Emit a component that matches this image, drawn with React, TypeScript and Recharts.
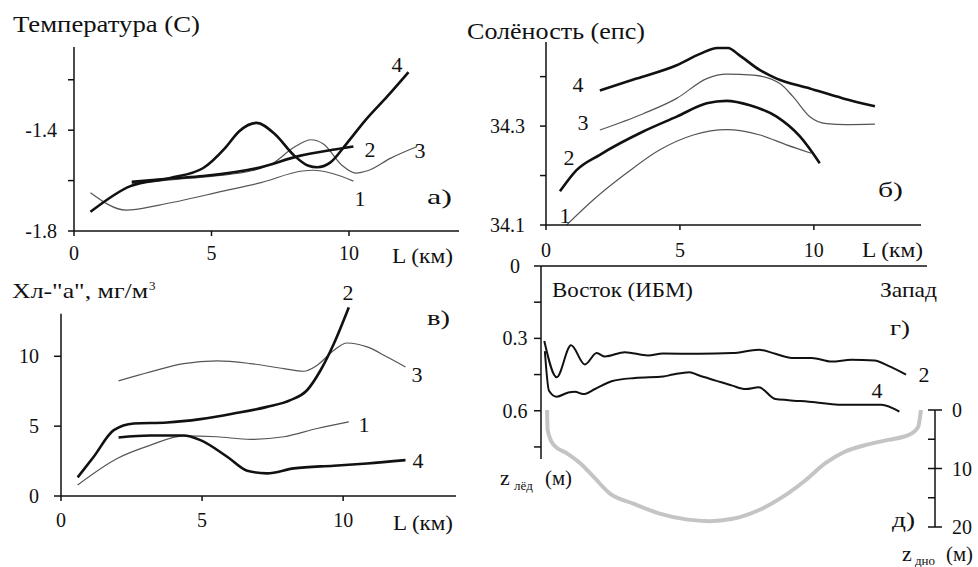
import { LineChart, Line, XAxis, YAxis, ReferenceLine } from 'recharts';

const FONT = "'Liberation Serif', 'DejaVu Serif', serif";
const INK = '#111';
const THIN = '#555';
const BED = '#c4c4c4';

// а) температура, °C — расстояние L (км), значение
const temp1 = [[0.6, -1.648], [1.9, -1.717], [3.1, -1.697], [5.5, -1.64], [6.8, -1.608], [8.3, -1.562], [8.7, -1.559], [9.4, -1.572], [10.16, -1.602]];
const temp2 = [[2.1, -1.605], [3.6, -1.591], [4.7, -1.582], [6.76, -1.548], [8.2, -1.502], [9.4, -1.478], [10.16, -1.465]];
const temp3 = [[2.1, -1.611], [3.6, -1.596], [5.07, -1.582], [6.5, -1.56], [7.25, -1.53], [8.0, -1.468], [8.62, -1.438], [9.07, -1.455], [9.75, -1.54], [10.25, -1.57], [10.7, -1.56], [11.5, -1.512], [12.46, -1.466]];
const temp4 = [[0.6, -1.724], [2.05, -1.622], [3.5, -1.59], [4.7, -1.55], [5.5, -1.47], [6.0, -1.405], [6.64, -1.371], [7.3, -1.415], [8.0, -1.5], [8.5, -1.54], [8.85, -1.547], [9.3, -1.53], [9.9, -1.455], [10.6, -1.36], [11.4, -1.265], [12.16, -1.17]];
const tempTicks = [-1.8, -1.6, -1.4, -1.2];
const tempTickLabels = [-1.8, -1.4];

// б) солёность, епс
const sal1 = [[0.77, 34.1], [1.77, 34.151], [3.01, 34.205], [4.25, 34.252], [5.5, 34.282], [6.74, 34.293], [7.99, 34.282], [8.98, 34.262], [9.9, 34.245]];
const sal2 = [[0.52, 34.168], [1.14, 34.211], [2.01, 34.242], [3.63, 34.289], [4.88, 34.319], [6.0, 34.346], [6.74, 34.351], [7.61, 34.342], [8.61, 34.319], [9.48, 34.279], [10.22, 34.225]];
const sal3 = [[2.01, 34.292], [3.63, 34.325], [4.88, 34.356], [6.0, 34.396], [6.74, 34.405], [7.74, 34.403], [8.73, 34.386], [9.23, 34.359], [9.85, 34.319], [10.47, 34.305], [11.2, 34.303], [12.28, 34.304]];
const sal4 = [[2.01, 34.372], [3.38, 34.396], [4.88, 34.423], [5.75, 34.446], [6.4, 34.458], [6.8, 34.458], [7.2, 34.444], [7.99, 34.413], [8.61, 34.396], [9.85, 34.376], [11.09, 34.356], [12.28, 34.34]];
const salTicks = [34.1, 34.2, 34.3, 34.4];
const salTickLabels = [34.1, 34.3];

// в) хлорофилл "а", мг/м3
const chl1 = [[0.59, 0.79], [1.99, 2.69], [3.17, 3.64], [4.35, 4.31], [5.53, 4.24], [6.71, 4.05], [7.9, 4.24], [9.08, 4.83], [10.2, 5.31]];
const chl2 = [[0.59, 1.33], [1.16, 2.81], [1.87, 4.71], [2.58, 5.19], [3.76, 5.26], [4.94, 5.5], [6.12, 5.9], [7.3, 6.38], [8.13, 6.86], [8.72, 7.57], [9.2, 9.0], [9.67, 10.9], [10.2, 13.5]];
const chl3 = [[2.04, 8.24], [3.17, 8.88], [4.35, 9.48], [5.53, 9.67], [6.71, 9.48], [7.9, 9.12], [8.6, 8.93], [9.08, 9.36], [9.67, 10.43], [10.14, 10.95], [10.85, 10.67], [11.56, 9.95], [12.21, 9.24]];
const chl4 = [[2.04, 4.19], [3.17, 4.33], [4.35, 4.33], [4.94, 4.0], [5.89, 2.81], [6.6, 1.81], [7.3, 1.62], [8.25, 1.98], [9.67, 2.17], [10.85, 2.33], [12.21, 2.57]];
const chlTicks = [0, 5, 10];

// г) толщина льда, м
const ice2 = [[0.12, 0.311], [0.57, 0.461], [1.09, 0.329], [1.59, 0.408], [2.02, 0.361], [2.32, 0.375], [3.04, 0.357], [3.88, 0.371], [4.42, 0.363], [5.74, 0.364], [6.94, 0.361], [7.9, 0.347], [8.5, 0.364], [9.1, 0.381], [9.82, 0.381], [10.54, 0.396], [11.26, 0.389], [12.1, 0.392], [12.58, 0.413], [13.24, 0.45]];
const ice4 = [[0.14, 0.353], [0.29, 0.517], [0.57, 0.542], [0.99, 0.524], [1.23, 0.521], [1.53, 0.531], [1.96, 0.51], [2.56, 0.478], [3.41, 0.464], [4.43, 0.458], [4.78, 0.45], [5.38, 0.44], [5.74, 0.454], [6.34, 0.475], [6.94, 0.496], [7.42, 0.51], [7.9, 0.503], [8.5, 0.551], [8.98, 0.556], [9.94, 0.565], [10.78, 0.575], [11.74, 0.575], [12.34, 0.575], [13.0, 0.604]];
const iceTicks = [0, 0.15, 0.3, 0.45, 0.6, 0.75];
const iceTickLabels = [0, 0.3, 0.6];

// д) глубина дна, м
const bed = [[0.22, 0], [0.24, 3.4], [0.46, 6.0], [0.94, 7.4], [1.42, 9.1], [1.9, 11.4], [2.5, 14.3], [3.34, 16.0], [4.3, 17.7], [5.26, 18.7], [6.1, 19.0], [6.94, 18.6], [7.9, 17.1], [8.74, 14.9], [9.58, 12.0], [10.3, 9.1], [11.02, 7.1], [11.74, 6.0], [12.58, 5.1], [13.3, 4.3], [13.66, 2.9], [13.76, 0]];
const bedTicks = [0, 5, 10, 15, 20];

const distTicks = [0, 5, 10];

const pts = (a: number[][]) => a.map(([x, y]) => ({ x, y }));
const near = (list: number[], v: number) => list.some((t) => Math.abs(t - v) < 1e-6);

const axisStyle = { stroke: INK, strokeWidth: 1.5 };
const tickText = { fill: INK, fontSize: 20, fontFamily: FONT };

function curve(data: number[][], bold: boolean, key: string) {
  return (
    <Line
      key={key}
      data={pts(data)}
      dataKey="y"
      type="monotone"
      stroke={bold ? INK : THIN}
      strokeWidth={bold ? 2.6 : 1.2}
      dot={false}
      activeDot={false}
      isAnimationActive={false}
    />
  );
}

function Box({ left, top, children }: { left: number; top: number; children: any }) {
  return <div style={{ position: 'absolute', left, top }}>{children}</div>;
}

// ширина области построения для панели д)
const BED_W = 394;

function BedTick({ y, payload }: any) {
  const major = payload.value % 10 === 0;
  return (
    <g>
      <line x1={BED_W - 7} x2={major ? BED_W + 7 : BED_W} y1={y} y2={y} stroke={INK} strokeWidth={1.5} />
      {major && (
        <text x={BED_W + 17} y={y} dominantBaseline="central" style={tickText}>
          {payload.value}
        </text>
      )}
    </g>
  );
}

function IceTick({ y, payload }: any) {
  if (!near(iceTickLabels, payload.value)) return <g />;
  return (
    <text x={29} y={y} textAnchor="middle" dominantBaseline="central" style={tickText}>
      {payload.value}
    </text>
  );
}

function Label({ x, y, t, size = 22, len, anchor = 'start' }: any) {
  return (
    <text
      x={x}
      y={y}
      textAnchor={anchor}
      textLength={len}
      lengthAdjust={len ? 'spacingAndGlyphs' : undefined}
      style={{ fontSize: size, fontFamily: FONT, fill: INK }}
    >
      {t}
    </text>
  );
}

export default function App() {
  return (
    <div style={{ position: 'absolute', left: 0, top: 0, width: 978, height: 567, background: '#fff', fontFamily: FONT }}>
      {/* а) температура */}
      <Box left={4} top={37}>
        <LineChart width={465} height={234} margin={{ top: 10, right: 10, bottom: 0, left: 0 }}>
          <XAxis type="number" dataKey="x" domain={[0, 14]} ticks={distTicks} height={40} tickSize={5} tickMargin={10}
            axisLine={axisStyle} tickLine={axisStyle} tick={tickText} allowDataOverflow />
          <YAxis type="number" domain={[-1.8, -1.07]} ticks={tempTicks} width={70} tickSize={6} tickMargin={11}
            axisLine={axisStyle} tickLine={axisStyle} tick={tickText} allowDataOverflow
            tickFormatter={(v: number) => (near(tempTickLabels, v) ? v.toFixed(1) : '')} />
          {curve(temp1, false, 't1')}
          {curve(temp3, false, 't3')}
          {curve(temp2, true, 't2')}
          {curve(temp4, true, 't4')}
        </LineChart>
      </Box>

      {/* б) солёность */}
      <Box left={476} top={32}>
        <LineChart width={455} height={233} margin={{ top: 10, right: 10, bottom: 0, left: 0 }}>
          <XAxis type="number" dataKey="x" domain={[0, 14]} ticks={distTicks} height={40} tickSize={5} tickMargin={13}
            axisLine={axisStyle} tickLine={axisStyle} tick={tickText} allowDataOverflow />
          <YAxis type="number" domain={[34.1, 34.47]} ticks={salTicks} width={70} tickSize={6} tickMargin={15}
            axisLine={axisStyle} tickLine={axisStyle} tick={tickText} allowDataOverflow
            tickFormatter={(v: number) => (near(salTickLabels, v) ? v.toFixed(1) : '')} />
          {curve(sal1, false, 's1')}
          {curve(sal3, false, 's3')}
          {curve(sal2, true, 's2')}
          {curve(sal4, true, 's4')}
        </LineChart>
      </Box>

      {/* в) хлорофилл */}
      <Box left={6} top={296}>
        <LineChart width={460} height={240} margin={{ top: 10, right: 10, bottom: 0, left: 0 }}>
          <XAxis type="number" dataKey="x" domain={[0, 14]} ticks={distTicks} height={40} tickSize={5} tickMargin={12}
            axisLine={axisStyle} tickLine={axisStyle} tick={tickText} allowDataOverflow />
          <YAxis type="number" domain={[0, 13.6]} ticks={chlTicks} width={55} tickSize={7} tickMargin={15}
            axisLine={false} tickLine={axisStyle} tick={tickText} allowDataOverflow />
          <ReferenceLine segment={[{ x: 0, y: 0 }, { x: 0, y: 13.05 }]} stroke={INK} strokeWidth={1.5} />
          {curve(chl1, false, 'c1')}
          {curve(chl3, false, 'c3')}
          {curve(chl2, true, 'c2')}
          {curve(chl4, true, 'c4')}
        </LineChart>
      </Box>

      {/* г) толщина льда */}
      <Box left={486} top={256}>
        <LineChart width={451} height={213} margin={{ top: 10, right: 10, bottom: 10, left: 0 }}>
          <XAxis type="number" dataKey="x" domain={[0, 14]} hide allowDataOverflow />
          <YAxis type="number" domain={[0, 0.8]} reversed ticks={iceTicks} width={55} tickSize={7}
            axisLine={axisStyle} tickLine={axisStyle} tick={<IceTick />} allowDataOverflow />
          <ReferenceLine y={0} stroke={INK} strokeWidth={1.5} />
          <Line data={pts(ice2)} dataKey="y" type="monotone" stroke={INK} strokeWidth={2}
            dot={false} activeDot={false} isAnimationActive={false} />
          <Line data={pts(ice4)} dataKey="y" type="monotone" stroke={INK} strokeWidth={2}
            dot={false} activeDot={false} isAnimationActive={false} />
        </LineChart>
      </Box>

      {/* д) профиль дна */}
      <Box left={541} top={400}>
        <LineChart width={BED_W + 45} height={137} margin={{ top: 10, right: 0, bottom: 10, left: 0 }}>
          <XAxis type="number" dataKey="x" domain={[0, 14.27]} hide allowDataOverflow />
          <YAxis type="number" orientation="right" domain={[0, 20]} reversed ticks={bedTicks} width={45}
            axisLine={axisStyle} tickLine={false} tick={<BedTick />} allowDataOverflow />
          <Line data={pts(bed)} dataKey="y" type="monotone" stroke={BED} strokeWidth={4}
            dot={false} activeDot={false} isAnimationActive={false} />
        </LineChart>
      </Box>

      {/* подписи */}
      <svg width={978} height={567} style={{ position: 'absolute', left: 0, top: 0, pointerEvents: 'none' }}>
        <Label x={13} y={32} t="Температура (С)" size={23} len={187} />
        <Label x={467} y={39} t="Солёность (епс)" size={23} len={178} />
        <Label x={12} y={298} t={'Хл-"а", мг/м'} size={22} len={136} />
        <Label x={149} y={290} t="3" size={13} />

        <Label x={392} y={263} t="L (км)" len={61} />
        <Label x={862} y={257} t="L (км)" len={61} />
        <Label x={393} y={530} t="L (км)" len={60} />

        <Label x={427} y={204} t="а)" len={25} />
        <Label x={878} y={197} t="б)" len={25} />
        <Label x={427} y={325} t="в)" len={23} />
        <Label x={890} y={335} t="г)" len={20} />
        <Label x={892} y={527} t="д)" len={23} />

        <Label x={552} y={297} t="Восток (ИБМ)" len={141} />
        <Label x={880} y={297} t="Запад" len={57} />

        <Label x={500} y={485} t="z" />
        <Label x={514} y={490} t="лёд" size={13} />
        <Label x={545} y={485} t="(м)" len={27} />
        <Label x={902} y={561} t="z" />
        <Label x={915} y={565} t="дно" size={13} />
        <Label x={946} y={561} t="(м)" len={27} />

        <Label x={397} y={72} t="4" anchor="middle" />
        <Label x={370} y={157} t="2" anchor="middle" />
        <Label x={420} y={158} t="3" anchor="middle" />
        <Label x={360} y={206} t="1" anchor="middle" />

        <Label x={578} y={92} t="4" anchor="middle" />
        <Label x={583} y={130} t="3" anchor="middle" />
        <Label x={569} y={165} t="2" anchor="middle" />
        <Label x={565} y={223} t="1" anchor="middle" />

        <Label x={348} y={300} t="2" anchor="middle" />
        <Label x={417} y={382} t="3" anchor="middle" />
        <Label x={364} y={432} t="1" anchor="middle" />
        <Label x={418} y={468} t="4" anchor="middle" />

        <Label x={924} y={382} t="2" anchor="middle" />
        <Label x={877} y={398} t="4" anchor="middle" />
      </svg>
    </div>
  );
}
